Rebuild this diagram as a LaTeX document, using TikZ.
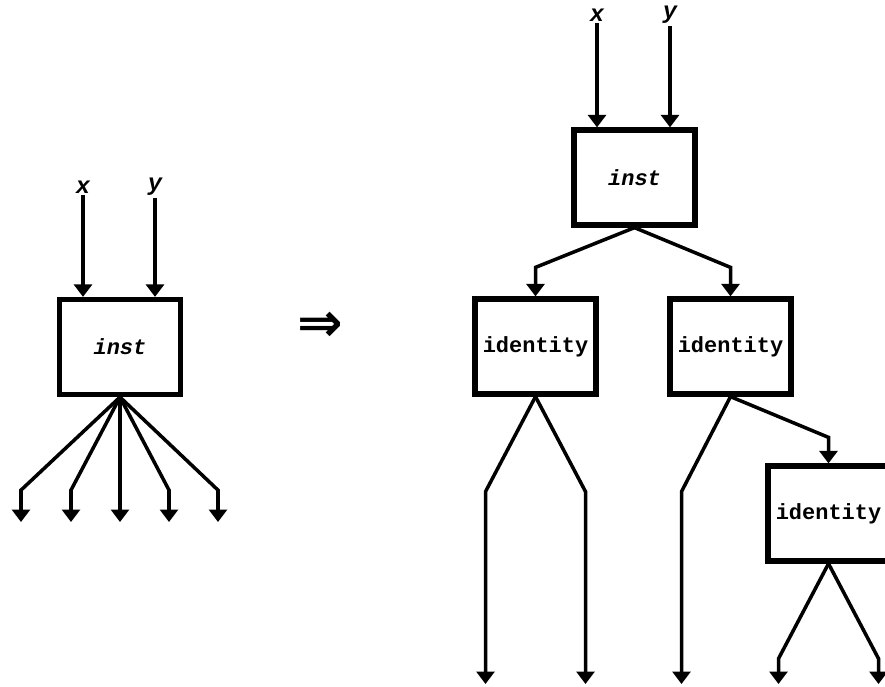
\documentclass[tikz,border=0pt]{standalone}
\usepackage{fontspec}
\setmonofont{Liberation Mono}
\newfontfamily\symbolfont{DejaVu Sans}
\usepackage{tikz}
\usetikzlibrary{arrows.meta, positioning, calc}
\tikzstyle{block}    = [rectangle, draw=black, line width=3pt, minimum width=2.42cm, minimum height=1.9cm,
                        inner sep=0pt, text centered, font=\fontsize{12.5}{14}\selectfont\ttfamily\bfseries]
\tikzstyle{varlabel} = [inner sep=1pt, font=\fontsize{13.5}{14}\selectfont\ttfamily\bfseries\itshape]
\tikzstyle{arrow}    = [-{Triangle[length=0.25cm, width=0.36cm]}, line width=2pt]

\begin{document}
\begin{tikzpicture}[x=0.02cm, y=-0.02cm]
    \useasboundingbox (0,0) rectangle (885,686);
    \clip (0,0) rectangle (885,686);

    % left: one inst with five outputs
    \node (linst) [block] at (120,347) {\itshape inst};
    \node (lx) [varlabel] at (83,187) {x};
    \node (ly) [varlabel] at (155,187) {y};
    \draw[arrow] (lx) -- (lx |- linst.north);
    \draw[arrow] (ly) -- (ly |- linst.north);
    \foreach \i/\dx in {1/-99, 2/-49, 3/0, 4/49, 5/98} {
        \coordinate (lbend\i) at ($(linst.south)+(\dx,93)$);
        \coordinate (lout\i) at (lbend\i |- 0,522);
        \draw[arrow] (linst.south) -- (lbend\i) -- (lout\i);
    }

    \node (implies) [font=\fontsize{31}{31}\selectfont\symbolfont\bfseries] at (320,327) {⇒};

    % right: inst followed by identity tree
    \node (rinst) [block] at (634.5,177.5) {\itshape inst};
    \node (rx) [varlabel] at (597,15) {x};
    \node (ry) [varlabel] at (670,15) {y};
    \node (id1) [block] at (535.5,346.5) {identity};
    \node (id2) [block] at (730.5,346.5) {identity};
    \node (id3) [block] at (828.5,513.5) {identity};

    \draw[arrow] (rx) -- (rx |- rinst.north);
    \draw[arrow] (ry) -- (ry |- rinst.north);
    \draw[arrow] (rinst.south) -- ($(id1.north)+(0,-29)$) -- (id1.north);
    \draw[arrow] (rinst.south) -- ($(id2.north)+(0,-29)$) -- (id2.north);
    \draw[arrow] (id2.south) -- ($(id3.north)+(0,-26)$) -- (id3.north);
    \foreach \n/\dx/\k in {id1/-50/a, id1/50/b, id2/-49/c, id3/-50/d, id3/50/e} {
        \coordinate (bend\k) at ($(\n.south)+(\dx,95)$);
        \coordinate (out\k) at (bend\k |- 0,684);
        \draw[arrow] (\n.south) -- (bend\k) -- (out\k);
    }
\end{tikzpicture}
\end{document}
